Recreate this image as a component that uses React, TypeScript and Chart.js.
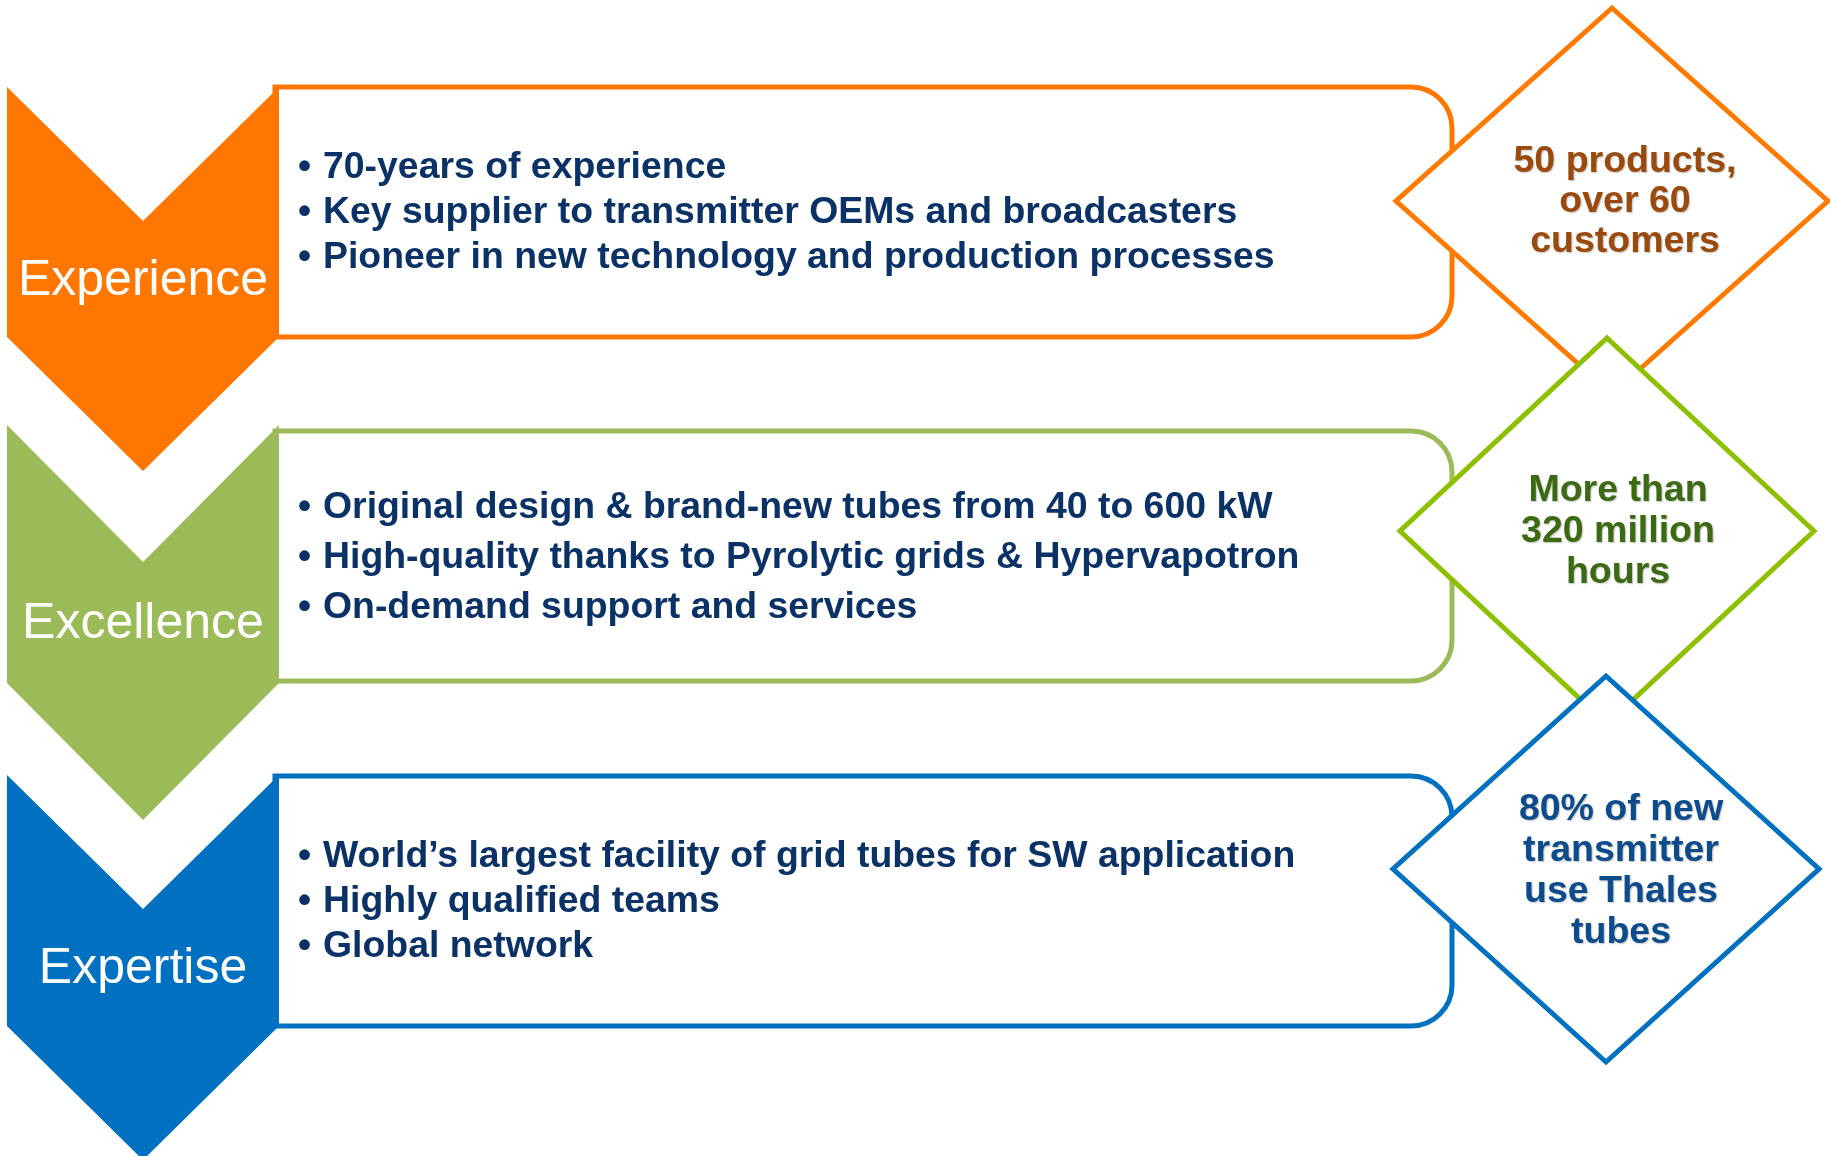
import React, { useEffect, useRef } from "react";
import { Chart, registerables } from "chart.js";

Chart.register(...registerables);

// ---- content ----
const categories = ["Experience", "Excellence", "Expertise"];

const experienceBullets = [
  "70-years of experience",
  "Key supplier to transmitter OEMs and broadcasters",
  "Pioneer in new technology and production processes",
];
const excellenceBullets = [
  "Original design & brand-new tubes from 40 to 600 kW",
  "High-quality thanks to Pyrolytic grids & Hypervapotron",
  "On-demand support and services",
];
const expertiseBullets = [
  "World\u2019s largest facility of grid tubes for SW application",
  "Highly qualified teams",
  "Global network",
];

const experienceHighlight = ["50 products,", "over 60", "customers"];
const excellenceHighlight = ["More than", "320 million", "hours"];
const expertiseHighlight = ["80% of new", "transmitter", "use Thales", "tubes"];

// ---- styles ----
const chevronColors = ["#FF7700", "#9BBB59", "#0070C0"];
const boxColors = ["#FF7700", "#9BBB59", "#0070C0"];
const diamondColors = ["#FF7A00", "#8DC000", "#0070C0"];
const highlightTextColors = ["#9A4A0C", "#3B6A12", "#0C4C8C"];
const bulletTextColor = "#0B3266";

const bulletsByRow = [experienceBullets, excellenceBullets, expertiseBullets];
const highlightsByRow = [experienceHighlight, excellenceHighlight, expertiseHighlight];

// ---- layout (in scale units, 1 unit = 1 px of the reference) ----
const boxTops = [87, 431, 776];
const boxHeight = 250;
const boxLeft = 275;
const boxRight = 1452;
const boxRadius = 41;
const chevronTops = [87, 425, 775];
const chevronLeft = 7;
const chevronRight = 279;
const chevronMid = 143;
const chevronDepth = [134, 137, 134];
const chevronBody = [250, 258, 251];
const labelBaselines = [295, 638, 983];
const bulletFirstBaseline = [178, 518, 867];
const bulletSpacing = [45, 50, 45];
const diamondCenters = [
  [1612, 201],
  [1607, 531],
  [1606, 869],
];
const diamondHalfW = [216, 207, 213];
const diamondHalfH = 193;
const highlightCenterX = [1625, 1618, 1621];
const highlightFirstBaseline = [172, 501, 820];
const highlightSpacing = [40, 41, 41];

const infographicPlugin = {
  id: "infographic",
  afterDraw(chart: any) {
    const ctx: CanvasRenderingContext2D = chart.ctx;
    const xs = chart.scales.x;
    const ys = chart.scales.y;
    const X = (v: number) => xs.getPixelForValue(v);
    const Y = (v: number) => ys.getPixelForValue(v);

    ctx.save();
    ctx.fillStyle = "#ffffff";
    ctx.fillRect(0, 0, chart.width, chart.height);

    categories.forEach((cat, i) => {
      // rounded box
      const L = X(boxLeft);
      const R = X(boxRight);
      const T = Y(boxTops[i]);
      const B = Y(boxTops[i] + boxHeight);
      const r = boxRadius;
      ctx.beginPath();
      ctx.moveTo(L, T);
      ctx.lineTo(R - r, T);
      ctx.arcTo(R, T, R, T + r, r);
      ctx.lineTo(R, B - r);
      ctx.arcTo(R, B, R - r, B, r);
      ctx.lineTo(L, B);
      ctx.closePath();
      ctx.fillStyle = "#ffffff";
      ctx.fill();
      ctx.lineWidth = 5;
      ctx.strokeStyle = boxColors[i];
      ctx.lineJoin = "miter";
      ctx.stroke();

      // chevron
      const cl = X(chevronLeft);
      const cr = X(chevronRight);
      const cm = X(chevronMid);
      const ct = Y(chevronTops[i]);
      const cn = Y(chevronTops[i] + chevronDepth[i]);
      const cs = Y(chevronTops[i] + chevronBody[i]);
      const ctip = Y(chevronTops[i] + chevronBody[i] + chevronDepth[i]);
      ctx.beginPath();
      ctx.moveTo(cl, ct);
      ctx.lineTo(cm, cn);
      ctx.lineTo(cr, ct);
      ctx.lineTo(cr, cs);
      ctx.lineTo(cm, ctip);
      ctx.lineTo(cl, cs);
      ctx.closePath();
      ctx.fillStyle = chevronColors[i];
      ctx.fill();

      // label
      ctx.fillStyle = "#ffffff";
      ctx.font = "50px 'Liberation Sans', Arial, sans-serif";
      ctx.textAlign = "center";
      ctx.textBaseline = "alphabetic";
      ctx.fillText(cat, X(143), Y(labelBaselines[i]));

      // bullets
      ctx.fillStyle = bulletTextColor;
      ctx.font = "bold 37.4px 'Liberation Sans', Arial, sans-serif";
      ctx.textAlign = "left";
      bulletsByRow[i].forEach((t, j) => {
        const by = Y(bulletFirstBaseline[i] + j * bulletSpacing[i]);
        ctx.fillText("\u2022", X(298), by);
        ctx.fillText(t, X(323), by);
      });
    });

    // diamonds (drawn in order so each overlaps the previous)
    categories.forEach((_, i) => {
      const [cx, cy] = diamondCenters[i];
      ctx.beginPath();
      ctx.moveTo(X(cx), Y(cy - diamondHalfH));
      ctx.lineTo(X(cx + diamondHalfW[i]), Y(cy));
      ctx.lineTo(X(cx), Y(cy + diamondHalfH));
      ctx.lineTo(X(cx - diamondHalfW[i]), Y(cy));
      ctx.closePath();
      ctx.fillStyle = "#ffffff";
      ctx.fill();
      ctx.lineWidth = 5;
      ctx.lineJoin = "miter";
      ctx.strokeStyle = diamondColors[i];
      ctx.stroke();

      ctx.font = "bold 37.5px 'Liberation Sans', Arial, sans-serif";
      ctx.textAlign = "center";
      ctx.fillStyle = highlightTextColors[i];
      ctx.shadowColor = "rgba(0,0,0,0.25)";
      ctx.shadowBlur = 1.5;
      ctx.shadowOffsetX = 1;
      ctx.shadowOffsetY = 1;
      highlightsByRow[i].forEach((t, j) => {
        ctx.fillText(t, X(highlightCenterX[i]), Y(highlightFirstBaseline[i] + j * highlightSpacing[i]));
      });
      ctx.shadowColor = "transparent";
      ctx.shadowBlur = 0;
      ctx.shadowOffsetX = 0;
      ctx.shadowOffsetY = 0;
    });

    ctx.restore();
  },
};

export default function App() {
  const canvasRef = useRef<HTMLCanvasElement | null>(null);

  useEffect(() => {
    document.body.style.margin = "0";
    const canvas = canvasRef.current;
    if (!canvas) return;
    const chart = new Chart(canvas, {
      type: "scatter",
      data: {
        datasets: categories.map((c) => ({ label: c, data: [] as any[] })),
      },
      options: {
        animation: false,
        responsive: true,
        maintainAspectRatio: false,
        events: [],
        layout: { padding: 0 },
        scales: {
          x: { type: "linear", min: 0, max: 1830, display: false },
          y: { type: "linear", min: 0, max: 1156, reverse: true, display: false },
        },
        plugins: {
          legend: { display: false },
          tooltip: { enabled: false },
          title: { display: false },
        },
      },
      plugins: [infographicPlugin],
    });
    return () => chart.destroy();
  }, []);

  return (
    <div style={{ position: "absolute", left: 0, top: 0, width: 1830, height: 1156, background: "#fff" }}>
      <canvas ref={canvasRef} />
    </div>
  );
}
